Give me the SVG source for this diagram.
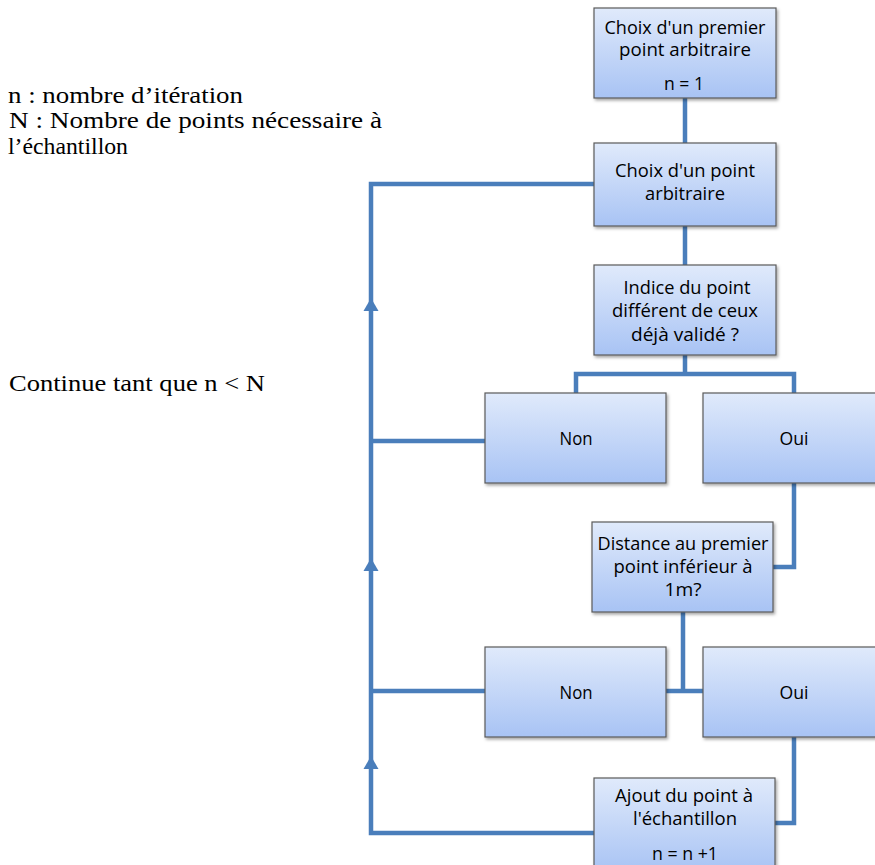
<svg xmlns="http://www.w3.org/2000/svg" width="875" height="865" viewBox="0 0 875 865">
<style>
.box{fill:url(#g);stroke:#5a5a5a;stroke-width:1.2;filter:url(#sh)}
.t{font-family:"Open Sans","Liberation Sans",sans-serif;font-size:17.5px;fill:#000;text-anchor:middle;dominant-baseline:central}
.n{font-family:"Liberation Serif","Times New Roman",serif;font-size:24px;fill:#000}
.c{fill:none;stroke:#4a7ebb;stroke-width:4.5;stroke-linejoin:miter}
.a{fill:#4a7ebb}
</style>
<defs>
<linearGradient id="g" x1="0" y1="0" x2="0" y2="1">
<stop offset="0" stop-color="#e0eafb"/>
<stop offset="1" stop-color="#a8c3f4"/>
</linearGradient>
<filter id="sh" x="-10%" y="-10%" width="130%" height="130%">
<feDropShadow dx="1.5" dy="2" stdDeviation="1.5" flood-color="#000" flood-opacity="0.35"/>
</filter>
</defs>
<g id="legend">
<text class="n" x="8" y="103" textLength="235" lengthAdjust="spacingAndGlyphs">n : nombre d’itération</text>
<text class="n" x="9" y="128" textLength="373" lengthAdjust="spacingAndGlyphs">N : Nombre de points nécessaire à</text>
<text class="n" x="8" y="154" textLength="120" lengthAdjust="spacingAndGlyphs">l’échantillon</text>
<text class="n" x="9" y="391" textLength="256" lengthAdjust="spacingAndGlyphs">Continue tant que n &lt; N</text>
</g>
<g id="connectors">
<path class="c" d="M685,98 V143"/>
<path class="c" d="M685,226 V265"/>
<path class="c" d="M594,184 H371 V833 H594"/>
<path class="c" d="M685,355 V374 M576,393 V374 H794 V393"/>
<path class="c" d="M485,441 H371"/>
<path class="c" d="M794,483 V567 H773"/>
<path class="c" d="M683,612 V691 M666,691 H703"/>
<path class="c" d="M485,691 H371"/>
<path class="c" d="M794,737 V823 H775"/>
<path class="a" d="M371,298 L363.5,311 H378.5 Z"/>
<path class="a" d="M371,558 L363.5,571 H378.5 Z"/>
<path class="a" d="M371,756 L363.5,769 H378.5 Z"/>
</g>
<g id="start">
<rect class="box" x="594" y="8" width="182" height="90"/>
<text class="t" x="685" y="27" textLength="161" lengthAdjust="spacingAndGlyphs">Choix d'un premier</text>
<text class="t" x="685" y="49" textLength="132" lengthAdjust="spacingAndGlyphs">point arbitraire</text>
<text class="t" x="684" y="83" textLength="40" lengthAdjust="spacingAndGlyphs">n = 1</text>
</g>
<g id="choose">
<rect class="box" x="594" y="143" width="182" height="83"/>
<text class="t" x="685" y="170" textLength="140" lengthAdjust="spacingAndGlyphs">Choix d'un point</text>
<text class="t" x="685" y="193" textLength="80" lengthAdjust="spacingAndGlyphs">arbitraire</text>
</g>
<g id="check">
<rect class="box" x="594" y="265" width="182" height="90"/>
<text class="t" x="687" y="287" textLength="127" lengthAdjust="spacingAndGlyphs">Indice du point</text>
<text class="t" x="685" y="310" textLength="146" lengthAdjust="spacingAndGlyphs">différent de ceux</text>
<text class="t" x="685" y="334" textLength="108" lengthAdjust="spacingAndGlyphs">déjà validé ?</text>
</g>
<g id="non1">
<rect class="box" x="485" y="393" width="181" height="90"/>
<text class="t" x="576" y="438" textLength="33" lengthAdjust="spacingAndGlyphs">Non</text>
</g>
<g id="oui1">
<rect class="box" x="703" y="393" width="182" height="90"/>
<text class="t" x="794" y="438" textLength="29" lengthAdjust="spacingAndGlyphs">Oui</text>
</g>
<g id="distance">
<rect class="box" x="592" y="522" width="181" height="90"/>
<text class="t" x="683" y="543" textLength="171" lengthAdjust="spacingAndGlyphs">Distance au premier</text>
<text class="t" x="683" y="566" textLength="139" lengthAdjust="spacingAndGlyphs">point inférieur à</text>
<text class="t" x="683" y="589" textLength="37" lengthAdjust="spacingAndGlyphs">1m?</text>
</g>
<g id="non2">
<rect class="box" x="485" y="647" width="181" height="90"/>
<text class="t" x="576" y="692" textLength="33" lengthAdjust="spacingAndGlyphs">Non</text>
</g>
<g id="oui2">
<rect class="box" x="703" y="647" width="182" height="90"/>
<text class="t" x="794" y="692" textLength="29" lengthAdjust="spacingAndGlyphs">Oui</text>
</g>
<g id="add">
<rect class="box" x="594" y="778" width="181" height="95"/>
<text class="t" x="684" y="795" textLength="138" lengthAdjust="spacingAndGlyphs">Ajout du point à</text>
<text class="t" x="685" y="818" textLength="104" lengthAdjust="spacingAndGlyphs">l'échantillon</text>
<text class="t" x="685" y="853" textLength="66" lengthAdjust="spacingAndGlyphs">n = n +1</text>
</g>
</svg>
